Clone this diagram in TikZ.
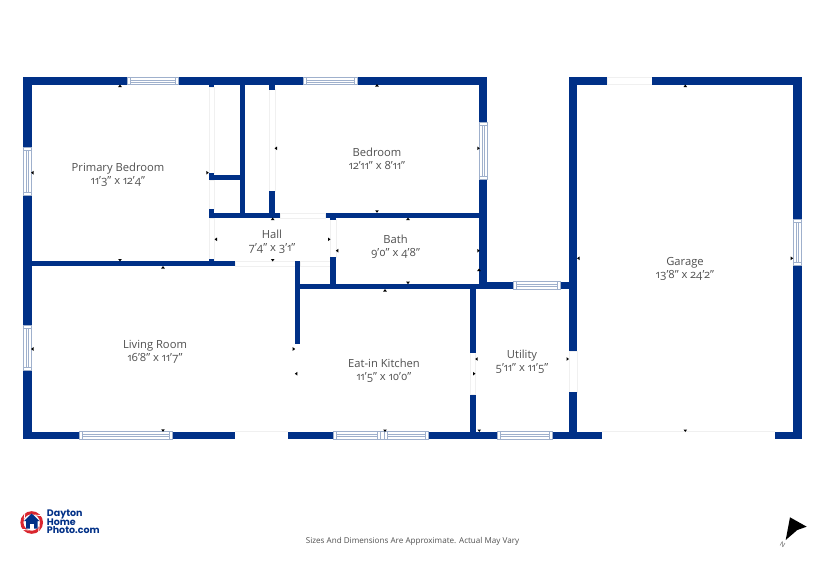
\documentclass[tikz,border=0pt]{standalone}
\usepackage{fontspec}
\setmainfont[Numbers=OldStyle]{Open Sans}
\newfontfamily\logofont{Poppins}
\definecolor{wallblue}{HTML}{003087}
\definecolor{winline}{HTML}{9FB0CC}
\definecolor{doorline}{HTML}{F0F0F0}
\definecolor{labelgrey}{HTML}{505050}
\definecolor{logored}{HTML}{D9262E}
\newcommand{\wallrect}[4]{\fill[wallblue] (#1,#2) rectangle (#3,#4);}
\newcommand{\doorrect}[4]{\draw[doorline,line width=.6pt,fill=white] (#1,#2) rectangle (#3,#4);}
\newcommand{\winH}[4]{\draw[winline,line width=.8pt,fill=white] (#1,#2) rectangle (#3,#4);
  \draw[winline,line width=.6pt] ({#1+3},#2) -- ({#1+3},#4) ({#3-3},#2) -- ({#3-3},#4)
  ({#1+3},{(#2+#4)/2-1}) -- ({#3-3},{(#2+#4)/2-1}) ({#1+3},{(#2+#4)/2+1}) -- ({#3-3},{(#2+#4)/2+1});}
\newcommand{\winV}[4]{\draw[winline,line width=.8pt,fill=white] (#1,#2) rectangle (#3,#4);
  \draw[winline,line width=.6pt] (#1,{#2+3}) -- (#3,{#2+3}) (#1,{#4-3}) -- (#3,{#4-3})
  ({(#1+#3)/2-1},{#2+3}) -- ({(#1+#3)/2-1},{#4-3}) ({(#1+#3)/2+1},{#2+3}) -- ({(#1+#3)/2+1},{#4-3});}
\newcommand{\tickU}[2]{\fill[black] (#1,{#2-1.5}) -- ({#1+1.8},{#2+1}) -- ({#1-1.8},{#2+1}) -- cycle;}
\newcommand{\tickD}[2]{\fill[black] (#1,{#2+1.5}) -- ({#1+1.8},{#2-1}) -- ({#1-1.8},{#2-1}) -- cycle;}
\newcommand{\tickL}[2]{\fill[black] ({#1-1.5},#2) -- ({#1+1},{#2+1.8}) -- ({#1+1},{#2-1.8}) -- cycle;}
\newcommand{\tickR}[2]{\fill[black] ({#1+1.5},#2) -- ({#1-1},{#2+1.8}) -- ({#1-1},{#2-1.8}) -- cycle;}
\tikzset{
  roomlabel/.style={align=center,text=labelgrey,font=\fontsize{11.2}{13}\selectfont,inner sep=0pt},
  logotext/.style={anchor=west,text=wallblue,inner sep=0pt,font=\logofont\bfseries\fontsize{9.5}{9.5}\selectfont}
}
\begin{document}
\begin{tikzpicture}[x=1pt,y=-1pt]
\useasboundingbox (0,0) rectangle (825,560);
\fill[white] (0,0) rectangle (825,560);
% thresholds
\doorrect{209}{87}{214.3}{173}
\doorrect{209}{180}{214.3}{209}
\doorrect{209}{218}{214.3}{261}
\doorrect{269}{89.5}{275}{191}
\doorrect{280}{213}{325.7}{218}
\doorrect{330}{219.5}{336}{257}
\doorrect{235}{261}{295}{266}
\doorrect{300}{261}{330}{266}
\doorrect{470}{352.7}{475.7}{394.7}
\doorrect{569}{351}{577.3}{392}
\draw[doorline,line width=.6pt] (235.3,431.7) -- (288,431.7);
\draw[doorline,line width=.6pt] (601.7,431.7) -- (775,431.7);
\doorrect{607.3}{77}{652}{84.7}
% outer walls: main house
\wallrect{23}{77}{487.3}{84.7}
\wallrect{23}{77}{31.5}{439.3}
\wallrect{479.3}{77}{487.3}{289.3}
% bottom wall
\wallrect{23}{431.7}{235.3}{439.3}
\wallrect{288}{431.7}{601.7}{439.3}
% interior
\wallrect{31}{261}{235}{266}
\wallrect{208.7}{84}{214.3}{87}
\wallrect{208.7}{173}{214.3}{180}
\wallrect{208.7}{175}{240}{180}
\wallrect{239.7}{84}{245.3}{214}
\wallrect{208.7}{209}{214.3}{218}
\wallrect{208.7}{258.5}{214.3}{262}
\wallrect{208.7}{213}{280}{218}
\wallrect{325.7}{213}{480}{218}
\wallrect{330}{217}{336.3}{219.5}
\wallrect{269}{84}{275}{89.5}
\wallrect{269}{191}{275}{214}
\wallrect{330}{257}{336.3}{285}
\wallrect{295}{284}{487}{289.3}
\wallrect{295}{261}{300.3}{344}
\wallrect{487}{281.7}{569.5}{289.3}
\wallrect{470}{289}{475.7}{352.7}
\wallrect{470}{394.7}{475.7}{432}
% garage
\wallrect{569}{77}{607.3}{84.7}
\wallrect{652}{77}{801.7}{84.7}
\wallrect{569}{77}{577.3}{350.7}
\wallrect{569}{392}{577.3}{439.3}
\wallrect{793.3}{77}{801.7}{439.3}
\wallrect{775}{431.7}{801.7}{439.3}
% windows
\winH{127}{77}{178}{84.7}
\winH{303}{77}{357}{84.7}
\winV{23}{147}{31.5}{195}
\winV{23}{325}{31.5}{370.7}
\winV{479.3}{122}{487.3}{179}
\winV{793.3}{219}{801.7}{265.7}
\winH{513}{281.7}{560.7}{289.3}
\winH{79.3}{431.7}{172.7}{439.3}
\winH{333.3}{431.7}{380}{439.3}
\winH{384}{431.7}{428.3}{439.3}
\draw[winline,line width=.8pt,fill=white] (380,431.7) rectangle (384,439.3);
\winH{497}{431.7}{552}{439.3}
% measure ticks
\tickU{120}{86}\tickD{120}{260}\tickU{163}{267.5}\tickL{32.5}{172.7}\tickR{207.3}{172.7}
\tickL{216}{239.3}\tickU{272.7}{219}\tickD{272.7}{260}
\tickU{377}{85.5}\tickL{276}{148.3}\tickR{478.3}{148.3}\tickD{377}{211.3}
\tickU{408}{219}\tickR{329}{239.3}\tickL{337.3}{250.7}\tickR{478.3}{250.7}\tickU{479}{270}
\tickD{408}{282.7}\tickU{385}{290.5}
\tickL{32.5}{349}\tickD{163}{430.3}\tickR{293.7}{349}\tickL{296.3}{373.7}
\tickD{385}{430.5}\tickR{474}{373.7}\tickL{476.7}{359}\tickR{567.5}{359}\tickD{479.3}{430.5}
\tickU{685.3}{86}\tickL{578.5}{258.3}\tickR{791.7}{258.3}\tickD{685.3}{430.5}
% labels
\node[roomlabel] (primary) at (118,174.5) {Primary Bedroom\\11'3" x 12'4"};
\node[roomlabel] (bedroom) at (377,159) {Bedroom\\12'11" x 8'11"};
\node[roomlabel] (hall) at (272,242) {Hall\\7'4" x 3'1"};
\node[roomlabel] (bath) at (395.5,246.7) {Bath\\9'0" x 4'8"};
\node[roomlabel] (living) at (155,351.5) {Living Room\\16'8" x 11'7"};
\node[roomlabel] (kitchen) at (384,371) {Eat-in Kitchen\\11'5" x 10'0"};
\node[roomlabel] (utility) at (522,361.5) {Utility\\5'11" x 11'5"};
\node[roomlabel] (garage) at (685,268.5) {Garage\\13'8" x 24'2"};
\node[inner sep=0pt,text=labelgrey,font=\fontsize{8.1}{9}\selectfont] (note) at (412.5,541) {Sizes And Dimensions Are Approximate. Actual May Vary};
% logo
\draw[logored,line width=3pt] (31.7,522.5) circle (9.8);
\foreach \a in {20,110,200,290}{\draw[white,line width=.8pt] ({31.7+8*cos(\a)},{522.5+8*sin(\a)}) -- ({31.7+12*cos(\a+35)},{522.5+12*sin(\a+35)});}
\fill[wallblue] (31.7,513.5) -- (39.5,521) -- (37.5,521) -- (37.5,528.5) -- (26,528.5) -- (26,521) -- (24,521) -- cycle;
\fill[white] (30,524) rectangle (33.5,528.5);
\node[logotext] (logoa) at (46.7,514) {Dayton};
\node[logotext] (logob) at (46.7,522) {Home};
\node[logotext] (logoc) at (46.7,530) {Photo.com};
% north arrow
\fill[black] (790,517.3) -- (806.7,526.7) -- (797.3,530) -- (785.7,540) -- cycle;
\node[rotate=-30,inner sep=0pt,text=labelgrey,font=\fontsize{6.5}{7}\selectfont] (north) at (782.7,545) {N};
\end{tikzpicture}
\end{document}
